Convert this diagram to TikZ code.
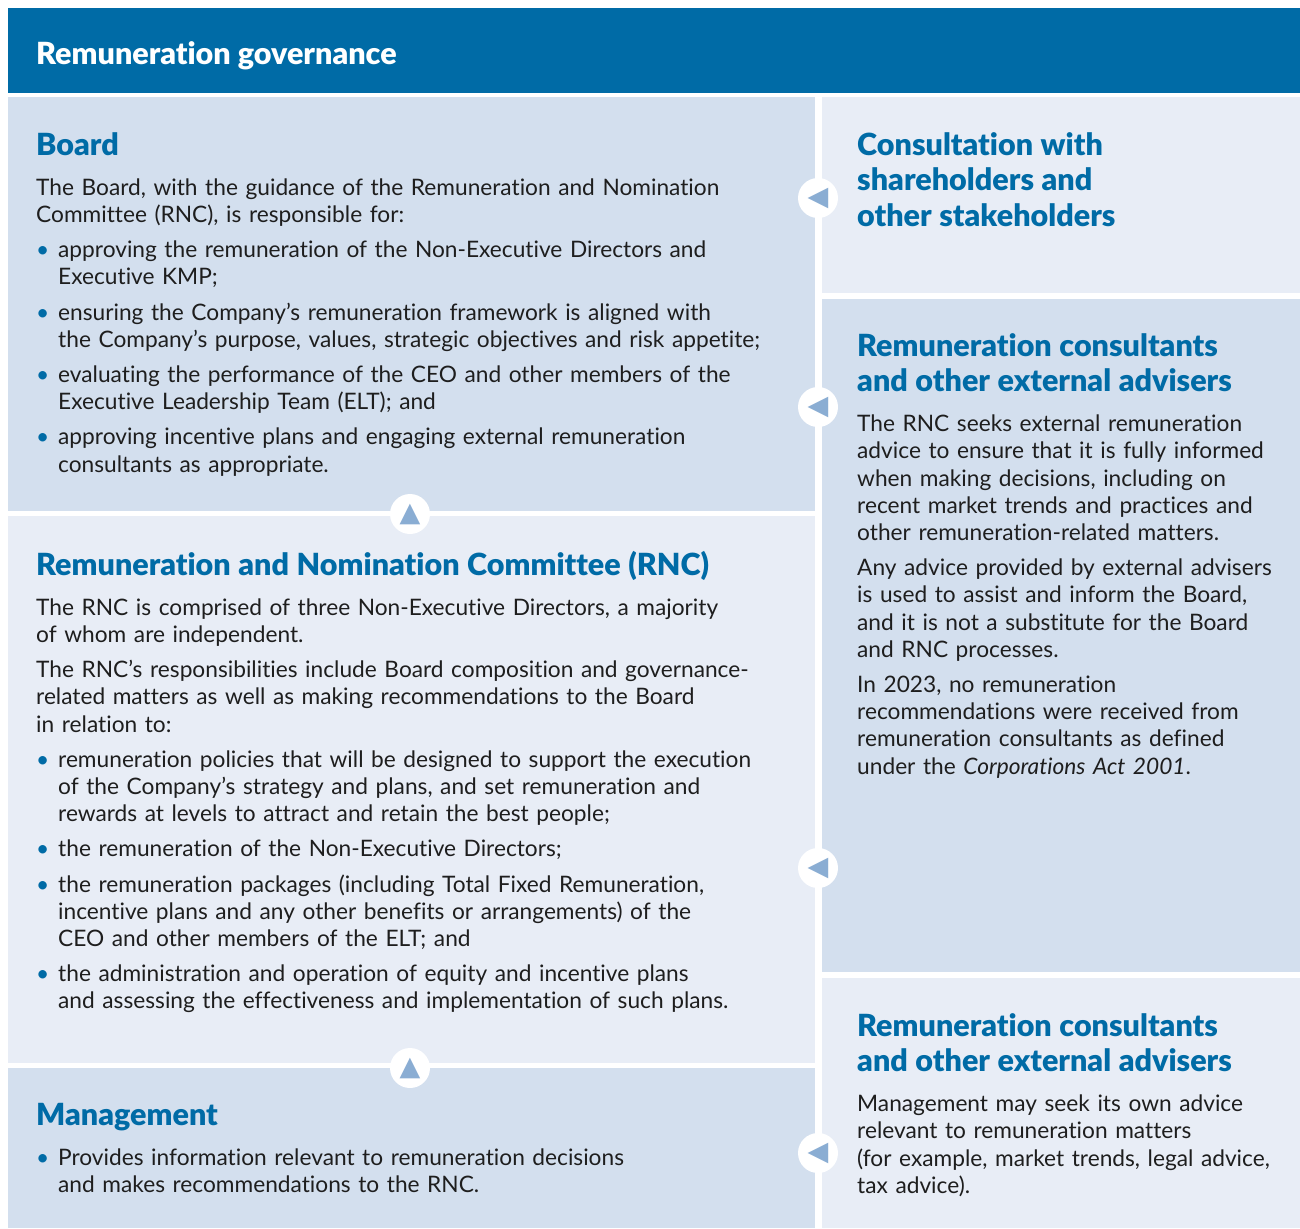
\documentclass[tikz,border=0pt]{standalone}
\usepackage{fontspec}
\setmainfont{Lato}[BoldFont={Lato Black},Ligatures=NoCommon]
\newfontfamily\symfont{DejaVu Sans}
\usetikzlibrary{positioning}

\definecolor{rgDark}{RGB}{0,107,166}
\definecolor{rgPanel}{RGB}{211,223,238}
\definecolor{rgPale}{RGB}{232,237,246}
\definecolor{rgTri}{RGB}{138,173,211}
\definecolor{rgText}{RGB}{30,30,30}

% heading inside a panel, and a bullet paragraph
\newcommand{\boxhead}[1]{{\fontsize{30.5}{35.5}\selectfont\bfseries\color{rgDark}#1\par}\vspace{5pt}}
\newcommand{\bpt}[1]{\par\hangindent=22pt\hangafter=1\noindent\makebox[22pt][l]{\hspace{0pt}\color{rgDark}\textbullet}#1\par}
\newcommand{\upmark}{{\symfont\fontsize{27}{27}\selectfont\color{rgTri}▲}}
\newcommand{\lmark}{{\symfont\fontsize{27}{27}\selectfont\color{rgTri}◀}}

\tikzset{
  panel/.style={anchor=north west,inner sep=0pt,outer sep=0pt},
  bodytext/.style={anchor=base west,inner sep=0pt,text=rgText,
    font=\fontsize{22.7}{27.2}\selectfont\raggedright\setlength{\parindent}{0pt}\setlength{\parskip}{8pt}},
  knob/.style={circle,fill=white,minimum size=40pt,inner sep=0pt},
}

\begin{document}
\begin{tikzpicture}[x=1pt,y=-1pt]
  \useasboundingbox (0,0) rectangle (1300,1228);

  % header
  \node (head) at (8,8) [panel,fill=rgDark,minimum width=1292pt,minimum height=85pt]{};
  \node (title) at (36,65) [anchor=base west,inner sep=0pt,text=white,font=\fontsize{30.5}{32}\selectfont\bfseries]{Remuneration governance};

  % left column
  \node (board) at (8,97) [panel,fill=rgPanel,minimum width=807pt,minimum height=414pt]{};
  \node (rnc) at (8,516) [panel,fill=rgPale,minimum width=807pt,minimum height=547pt]{};
  \node (mgmt) at (8,1068) [panel,fill=rgPanel,minimum width=807pt,minimum height=160pt]{};

  % right column
  \node (consult) at (822,97) [panel,fill=rgPale,minimum width=478pt,minimum height=196pt]{};
  \node (advisers) at (822,299) [panel,fill=rgPanel,minimum width=478pt,minimum height=673pt]{};
  \node (mgmtadv) at (822,978) [panel,fill=rgPale,minimum width=478pt,minimum height=250pt]{};

  \node (boardtxt) at (36,155) [bodytext,text width=900pt]{%
    \boxhead{Board}
    The Board, with the guidance of the Remuneration and Nomination\newline Committee (RNC), is responsible for:
    \bpt{approving the remuneration of the Non-Executive Directors and\newline Executive KMP;}
    \bpt{ensuring the Company’s remuneration framework is aligned with\newline the Company’s purpose, values, strategic objectives and risk appetite;}
    \bpt{evaluating the performance of the CEO and other members of the\newline Executive Leadership Team (ELT); and}
    \bpt{approving incentive plans and engaging external remuneration\newline consultants as appropriate.}};

  \node (rnctxt) at (36,575) [bodytext,text width=900pt]{%
    \boxhead{Remuneration and Nomination Committee (RNC)}
    The RNC is comprised of three Non-Executive Directors, a majority\newline of whom are independent.\par
    The RNC’s responsibilities include Board composition and governance-\newline related matters as well as making recommendations to the Board\newline in relation to:
    \bpt{remuneration policies that will be designed to support the execution\newline of the Company’s strategy and plans, and set remuneration and\newline rewards at levels to attract and retain the best people;}
    \bpt{the remuneration of the Non-Executive Directors;}
    \bpt{the remuneration packages (including Total Fixed Remuneration,\newline incentive plans and any other benefits or arrangements) of the\newline CEO and other members of the ELT; and}
    \bpt{the administration and operation of equity and incentive plans\newline and assessing the effectiveness and implementation of such plans.}};

  \node (mgmttxt) at (36,1125) [bodytext,text width=900pt]{%
    \boxhead{Management}
    \bpt{Provides information relevant to remuneration decisions\newline and makes recommendations to the RNC.}};

  \node (consulttxt) at (857,155) [bodytext,text width=600pt]{%
    \boxhead{Consultation with\newline shareholders and\newline other stakeholders}};

  \node (adviserstxt) at (857,356) [bodytext,text width=600pt]{%
    \boxhead{Remuneration consultants\newline and other external advisers}
    The RNC seeks external remuneration\newline advice to ensure that it is fully informed\newline when making decisions, including on\newline recent market trends and practices and\newline other remuneration-related matters.\par
    Any advice provided by external advisers\newline is used to assist and inform the Board,\newline and it is not a substitute for the Board\newline and RNC processes.\par
    In 2023, no remuneration\newline recommendations were received from\newline remuneration consultants as defined\newline under the \emph{Corporations Act 2001}.};

  \node (mgmtadvtxt) at (857,1036) [bodytext,text width=600pt]{%
    \boxhead{Remuneration consultants\newline and other external advisers}
    Management may seek its own advice\newline relevant to remuneration matters\newline (for example, market trends, legal advice,\newline tax advice).};

  % flow markers
  \node (k1) at (410,514) [knob]{\upmark};
  \node (k2) at (410,1068) [knob]{\upmark};
  \node (k3) at (818,198) [knob]{\lmark};
  \node (k4) at (818,407) [knob]{\lmark};
  \node (k5) at (818,868) [knob]{\lmark};
  \node (k6) at (818,1153) [knob]{\lmark};

\end{tikzpicture}
\end{document}
